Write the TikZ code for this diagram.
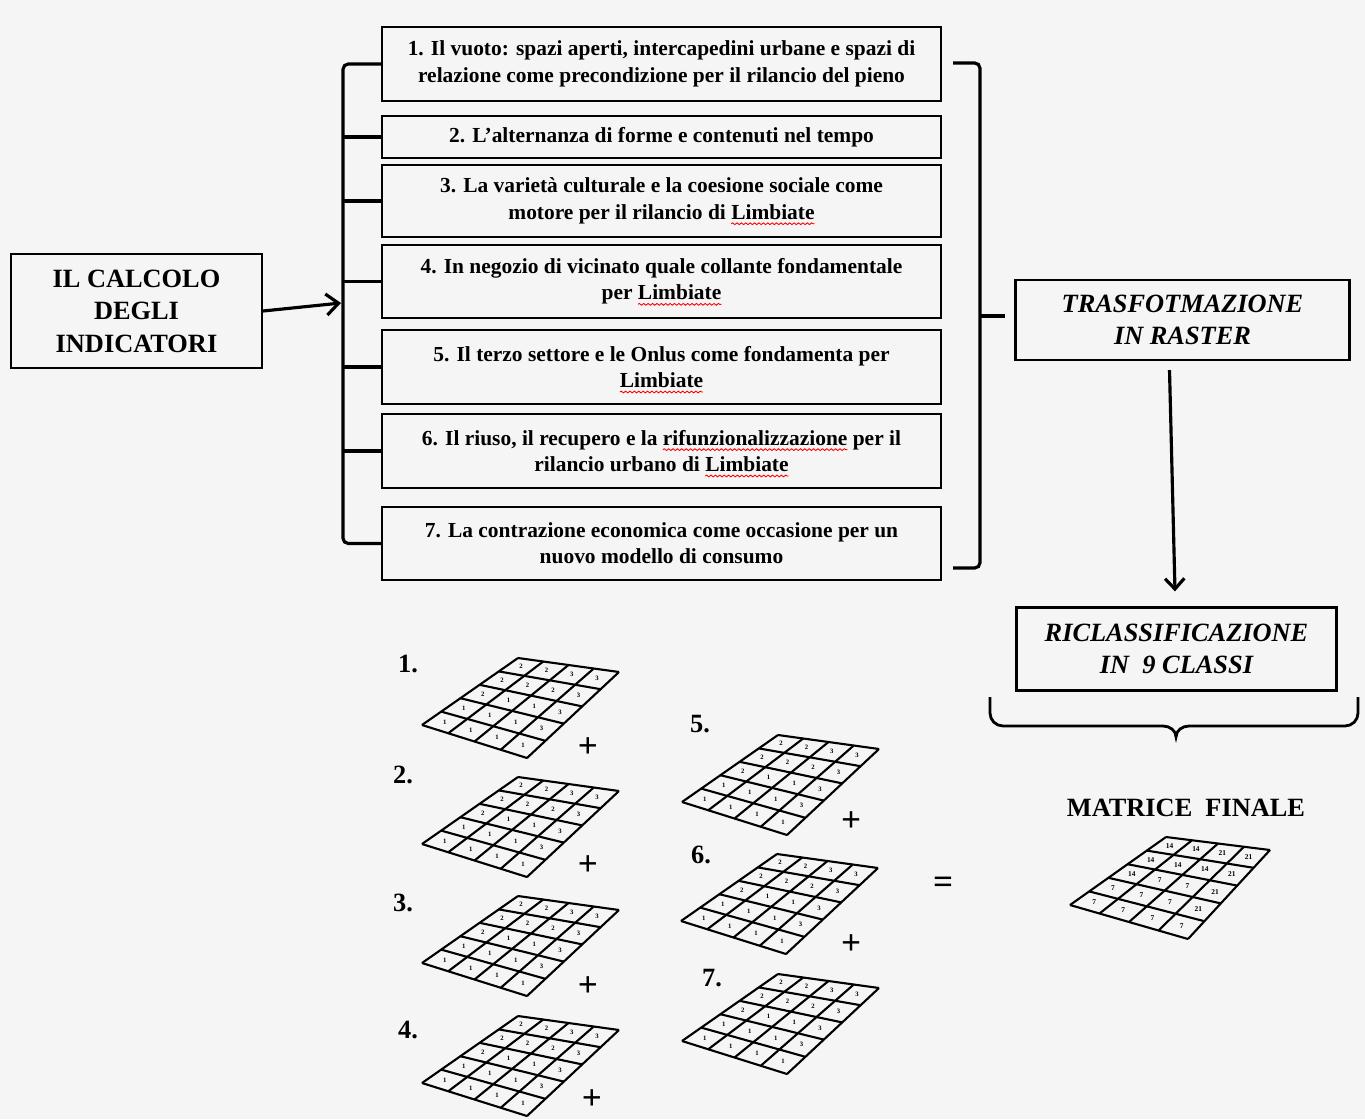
\documentclass[tikz,border=0pt]{standalone}
\usepackage{fontspec}
\setmainfont{Liberation Serif}
\usetikzlibrary{calc,positioning,arrows.meta,decorations.pathmorphing}

\definecolor{paper}{RGB}{245,245,245}
\newcommand\spellmark[1]{\tikz[baseline=(w.base), x=1cm, y=1cm]{%
  \node[draw=none, minimum width=0pt, minimum height=0pt, inner sep=0pt, outer sep=0pt, anchor=base] (w) {#1};
  \draw[overlay, red, line width=0.5pt, decorate, decoration={snake, amplitude=0.5pt, segment length=2.5pt}]
    ([yshift=-2.5pt]w.base west) -- ([yshift=-2.5pt]w.base east);}}

\def\smallvals{2,2,3,3,2,2,2,3,2,1,1,3,1,1,1,3,1,1,1,1}
\def\finalvals{14,14,21,21,14,14,14,21,14,7,7,21,7,7,7,21,7,7,7,7}

% #1 cell style, #2 name, #3-#6 corners tl/tr/br/bl, #7 values
\newcommand\rastergrid[7][]{%
  \coordinate (#2-tl) at (#3);
  \coordinate (#2-tr) at (#4);
  \coordinate (#2-br) at (#5);
  \coordinate (#2-bl) at (#6);
  \foreach \c in {0,...,4}
    \draw[gridline] ($(#2-tl)!\c/4!(#2-tr)$) -- ($(#2-bl)!\c/4!(#2-br)$);
  \foreach \r in {0,...,5}
    \draw[gridline] ($(#2-tl)!\r/5!(#2-bl)$) -- ($(#2-tr)!\r/5!(#2-br)$);
  \foreach \v [count=\k from 0] in #7 {
    \pgfmathtruncatemacro\gr{\k/4}
    \pgfmathtruncatemacro\gc{mod(\k,4)}
    \coordinate (#2-u) at ($(#2-tl)!{(\gc+0.5)/4}!(#2-tr)$);
    \coordinate (#2-w) at ($(#2-bl)!{(\gc+0.5)/4}!(#2-br)$);
    \node[cellnum,#1] at ($(#2-u)!{(\gr+0.5)/5}!(#2-w)$) {\v};
  }
}

\tikzset{
  itembox/.style={draw, line width=1.3pt, minimum width=11.18cm, align=center,
    inner sep=2pt, font=\fontsize{12.2}{15}\selectfont\bfseries},
  bigbox/.style={draw, line width=1.3pt, align=center,
    font=\fontsize{15}{18.5}\selectfont\bfseries},
  bigital/.style={bigbox, font=\fontsize{15}{18.5}\selectfont\bfseries\itshape},
  bracket/.style={line width=1.8pt},
  arrowline/.style={line width=1.8pt, -{Straight Barb[length=5pt,width=10pt]}},
  gridline/.style={line width=1.2pt},
  cellnum/.style={font=\fontsize{3.8}{4}\selectfont\bfseries, inner sep=0pt},
  steplabel/.style={font=\fontsize{15}{18}\selectfont\bfseries},
  opsign/.style={font=\fontsize{20}{20}\selectfont\bfseries},
}

\begin{document}
\begin{tikzpicture}[x=0.02cm, y=-0.02cm]
	\fill[paper] (0,0) rectangle (1365,1119);
	\useasboundingbox (0,0) rectangle (1365,1119);

	\node[bigbox, minimum width=5.02cm, minimum height=2.28cm] (calcolo) at (136.5,311) {IL CALCOLO\\DEGLI\\INDICATORI};

	\node[itembox, minimum height=1.48cm] (i1) at (661.5,64) {1. Il vuoto: spazi aperti, intercapedini urbane e spazi di\\relazione come precondizione per il rilancio del pieno};
	\node[itembox, minimum height=0.84cm] (i2) at (661.5,137) {2. L’alternanza di forme e contenuti nel tempo};
	\node[itembox, minimum height=1.44cm] (i3) at (661.5,201) {3. La varietà culturale e la coesione sociale come\\motore per il rilancio di \spellmark{Limbiate}};
	\node[itembox, minimum height=1.46cm] (i4) at (661.5,281.5) {4. In negozio di vicinato quale collante fondamentale\\per \spellmark{Limbiate}};
	\node[itembox, minimum height=1.48cm] (i5) at (661.5,367) {5. Il terzo settore e le Onlus come fondamenta per\\\spellmark{Limbiate}};
	\node[itembox, minimum height=1.48cm] (i6) at (661.5,451) {6. Il riuso, il recupero e la \spellmark{rifunzionalizzazione} per il\\rilancio urbano di \spellmark{Limbiate}};
	\node[itembox, minimum height=1.46cm] (i7) at (661.5,543.5) {7. La contrazione economica come occasione per un\\nuovo modello di consumo};

	\coordinate (lspine) at (343,0);
	\coordinate (lin) at (341,303);
	\draw[bracket, rounded corners=3pt] (i1.west) -- (i1.west -| lspine) -- (i7.west -| lspine) -- (i7.west);
	\foreach \k in {2,...,6}
		\draw[bracket] (i\k.west -| lspine) -- (i\k.west);
	\draw[arrowline, -{Straight Barb[length=7pt,width=12pt]}] (calcolo.east) -- (lin);

	\node[bigital, minimum width=6.68cm, minimum height=1.6cm] (raster) at (1182.5,320) {TRASFOTMAZIONE\\IN RASTER};
	\node[bigital, minimum width=6.4cm, minimum height=1.66cm] (riclass) at (1176.5,649) {RICLASSIFICAZIONE\\IN\ \ 9 CLASSI};

	\coordinate (rtick) at (1005,316);
	\draw[bracket, rounded corners=3pt] (953,63) -- (980,63) -- (980,568) -- (953,568);
	\draw[bracket] (980,316) -- (rtick);
	\draw[arrowline, -{Straight Barb[length=6pt,width=11pt]}] ($(raster.south)+(-13,9)$) -- ($(riclass.north)+(-1.5,-15)$);

	\draw[bracket, line width=1.6pt] (990,697) -- (990,713) to[out=-90,in=180] (1003,726) -- (1163,726)
		to[out=0,in=90] (1176,737) to[out=90,in=180] (1189,726) -- (1345,726) to[out=0,in=-90] (1358,713) -- (1358,697);

	\node[steplabel] (finale) at (1186,808) {MATRICE\ \ FINALE};

	\node[steplabel] (n1) at (408,664) {1.};
	\node[steplabel] (n2) at (403,775) {2.};
	\node[steplabel] (n3) at (403,903) {3.};
	\node[steplabel] (n4) at (408,1030) {4.};
	\node[steplabel] (n5) at (700,724) {5.};
	\node[steplabel] (n6) at (701,855) {6.};
	\node[steplabel] (n7) at (712,978) {7.};

	\rastergrid{g1}{518,658}{619,672}{527,758}{422,725}{\smallvals}
	\rastergrid{g2}{518,777}{619,791}{527,877}{422,844}{\smallvals}
	\rastergrid{g3}{518,896}{619,910}{527,996}{422,963}{\smallvals}
	\rastergrid{g4}{518,1016}{619,1030}{527,1116}{422,1083}{\smallvals}
	\rastergrid{g5}{778,735}{879,749}{787,835}{682,802}{\smallvals}
	\rastergrid{g6}{777,854}{878,868}{786,954}{681,921}{\smallvals}
	\rastergrid{g7}{778,974}{879,988}{787,1074}{682,1041}{\smallvals}
	\rastergrid[font=\fontsize{4.2}{4}\selectfont\bfseries]{gf}{1166,837}{1270,850}{1188,939}{1070,905}{\finalvals}

	\node[opsign] (p1) at (588,748) {+};
	\node[opsign] (p2) at (588,866) {+};
	\node[opsign] (p3) at (588,987) {+};
	\node[opsign] (p4) at (592,1100) {+};
	\node[opsign] (p5) at (851,822) {+};
	\node[opsign] (p6) at (851,945) {+};
	\node[opsign] (eq) at (943,885) {=};
\end{tikzpicture}
\end{document}
